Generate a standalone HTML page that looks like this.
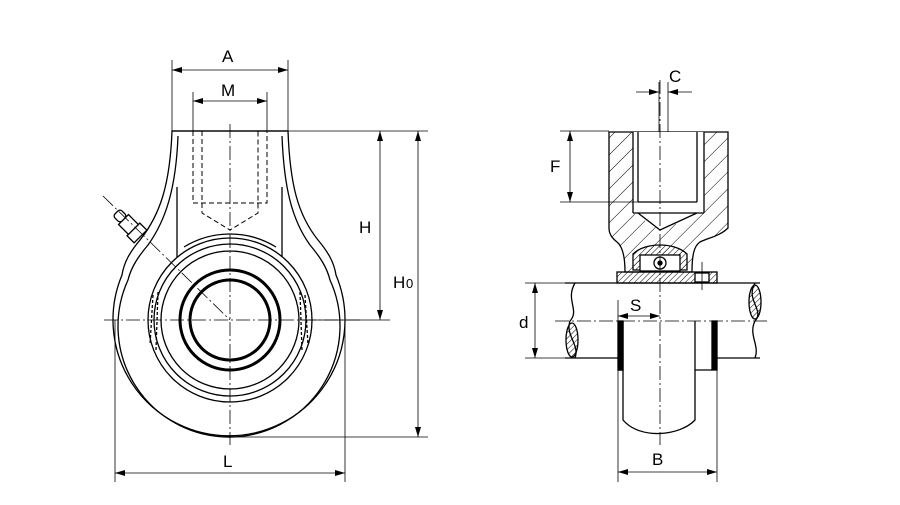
<!DOCTYPE html>
<html><head><meta charset="utf-8"><style>
html,body{margin:0;padding:0;background:#fff}
svg{display:block}
text{font-family:"Liberation Sans",sans-serif;font-size:17px;fill:#000}
</style></head><body>
<svg width="900" height="505" viewBox="0 0 900 505" xmlns="http://www.w3.org/2000/svg">
<defs>
<pattern id="h" width="12" height="12" patternUnits="userSpaceOnUse" patternTransform="rotate(45)">
<line x1="0" y1="0" x2="0" y2="12" stroke="#000" stroke-width="1"/></pattern>
<pattern id="h2" width="4" height="4" patternUnits="userSpaceOnUse" patternTransform="rotate(45)">
<line x1="0" y1="0" x2="0" y2="4" stroke="#000" stroke-width="1"/></pattern>
<marker id="a" viewBox="0 0 10 6" refX="10" refY="3" markerWidth="10" markerHeight="6" orient="auto-start-reverse" markerUnits="userSpaceOnUse"><path d="M0,0L10,3L0,6z"/></marker>
</defs>
<g fill="none" stroke="#000" stroke-width="1.3">
<!-- LEFT VIEW body -->
<path d="M172,131 C170,185 160,215 140,240 C130,252 124,262 122,275 A116,116 0 1 0 336,275 C334,262 328,252 318,240 C298,215 290,185 288,131 Z" fill="#fff"/>
<path d="M178,136 C176,188 166,220 148,245 C137,258 131,268 128,280 A111,111 0 1 0 330,280 C327,268 321,258 310,245 C292,220 284,188 282,136"/>
<line x1="172" y1="131" x2="288" y2="131"/>
<line x1="177" y1="187" x2="177" y2="257"/><line x1="282" y1="187" x2="282" y2="257"/>
<path d="M184,247 A88,88 0 0 1 276,247"/>
<circle cx="230" cy="320" r="82"/>
<circle cx="230" cy="320" r="76"/>
<circle cx="230" cy="320" r="69"/>
<circle cx="230" cy="320" r="50" stroke-width="3"/>
<circle cx="230" cy="320" r="40" stroke-width="3"/>
<path d="M153,295 L150,345 M158,292 L156,350 M305,295 L308,345 M300,292 L302,350" stroke-dasharray="3,2"/>
<!-- hidden hole -->
<g stroke-dasharray="5,3" stroke-width="1">
<path d="M193,131 V203 H267 V131"/>
<path d="M202,131 V213 L230,230 L258,213 V131"/>
</g>
<!-- grease nipple -->
<g transform="rotate(-45 132 228)">
<rect x="123" y="230" width="18" height="10" fill="#fff"/>
<rect x="125" y="216" width="14" height="14" fill="#fff"/>
<rect x="127" y="206" width="10" height="10" fill="#fff" rx="3"/>
</g>
<!-- centerlines -->
<g stroke-width="0.8" stroke-dasharray="14,3,2,3">
<line x1="104" y1="320" x2="360" y2="320"/>
<line x1="230" y1="124" x2="230" y2="445"/>
<line x1="103" y1="196" x2="230" y2="320"/>
</g>
<!-- dims left -->
<g stroke-width="0.8">
<line x1="172" y1="60" x2="172" y2="131"/><line x1="288" y1="60" x2="288" y2="131"/>
<line x1="172" y1="70" x2="288" y2="70" marker-start="url(#a)" marker-end="url(#a)"/>
<line x1="193" y1="92" x2="193" y2="131"/><line x1="267" y1="92" x2="267" y2="131"/>
<line x1="193" y1="101" x2="267" y2="101" marker-start="url(#a)" marker-end="url(#a)"/>
<line x1="288" y1="131" x2="428" y2="131"/>
<line x1="300" y1="320" x2="390" y2="320"/>
<line x1="230" y1="437" x2="428" y2="437"/>
<line x1="380" y1="131" x2="380" y2="320" marker-start="url(#a)" marker-end="url(#a)"/>
<line x1="418" y1="131" x2="418" y2="437" marker-start="url(#a)" marker-end="url(#a)"/>
<line x1="115" y1="320" x2="115" y2="482"/><line x1="345" y1="320" x2="345" y2="482"/>
<line x1="115" y1="473" x2="345" y2="473" marker-start="url(#a)" marker-end="url(#a)"/>
</g>

<!-- RIGHT VIEW -->
<path d="M609,132 H728 V228 C720,236 708,238 700,242 C694,246 692,255 692,272 H625 C625,255 622,246 617,242 C612,238 609,234 609,228 Z" fill="url(#h)"/>
<path d="M633,132 V213 L660,230 L704,213 V132 Z" fill="#fff" stroke="none"/>
<path d="M633,132 V213 M704,132 V213 M638,132 V202 M697,132 V202 M638,213 L660,230 L697,213 M633,213 H704 M638,202 H697"/>
<!-- bearing -->
<path d="M633,270 V254 C645,242 675,242 687,254 V270 Z" fill="url(#h2)"/>
<rect x="640" y="255" width="40" height="16" fill="#fff"/>
<circle cx="660" cy="263" r="6"/><circle cx="660" cy="263" r="2" fill="#000"/>
<rect x="617" y="272" width="100" height="11" fill="url(#h2)"/>
<rect x="695" y="273" width="14" height="9" fill="#fff"/>
<line x1="702" y1="262" x2="702" y2="290" stroke-width="0.8"/>
<!-- shaft -->
<path d="M565,283 H760 M565,358 H618 M717,358 H760"/>
<path d="M575,283 C565,300 580,310 570,321 C565,335 580,345 575,358" />
<path d="M755,283 C745,300 765,310 755,321 C748,335 760,345 755,358"/>
<ellipse cx="572" cy="340" rx="6" ry="17" fill="url(#h2)"/>
<ellipse cx="755" cy="302" rx="6" ry="17" fill="url(#h2)"/>
<!-- skirt & collars -->
<path d="M623,321 V420 C640,440 680,436 695,420 V321"/>
<rect x="618" y="321" width="5" height="49" fill="#000"/>
<rect x="712" y="321" width="5" height="49" fill="#000"/>
<path d="M695,370 H712 M623,370 H618"/>
<!-- centerlines right -->
<g stroke-width="0.8" stroke-dasharray="14,3,2,3">
<line x1="660" y1="80" x2="660" y2="445"/>
<line x1="555" y1="321" x2="770" y2="321"/>
</g>
<!-- dims right -->
<g stroke-width="0.8">
<line x1="659" y1="82" x2="659" y2="132"/><line x1="668" y1="82" x2="668" y2="132"/>
<line x1="636" y1="92" x2="659" y2="92" marker-end="url(#a)"/>
<line x1="692" y1="92" x2="668" y2="92" marker-end="url(#a)"/>
<line x1="560" y1="131" x2="609" y2="131"/><line x1="560" y1="202" x2="638" y2="202"/>
<line x1="570" y1="131" x2="570" y2="202" marker-start="url(#a)" marker-end="url(#a)"/>
<line x1="525" y1="283" x2="565" y2="283"/><line x1="525" y1="358" x2="565" y2="358"/>
<line x1="535" y1="283" x2="535" y2="358" marker-start="url(#a)" marker-end="url(#a)"/>
<line x1="618" y1="300" x2="618" y2="321"/>
<line x1="618" y1="316" x2="660" y2="316" marker-start="url(#a)" marker-end="url(#a)"/>
<line x1="618" y1="370" x2="618" y2="482"/><line x1="717" y1="370" x2="717" y2="482"/>
<line x1="618" y1="472" x2="717" y2="472" marker-start="url(#a)" marker-end="url(#a)"/>
</g>
</g>
<text x="222" y="62">A</text>
<text x="221" y="96">M</text>
<text x="359" y="233">H</text>
<text x="393" y="288">H</text><text x="406" y="288" style="font-size:13px">0</text>
<text x="223" y="467">L</text>
<text x="669" y="82">C</text>
<text x="550" y="172">F</text>
<text x="519" y="328">d</text>
<text x="630" y="311">S</text>
<text x="652" y="465">B</text>
</svg>
</body></html>
